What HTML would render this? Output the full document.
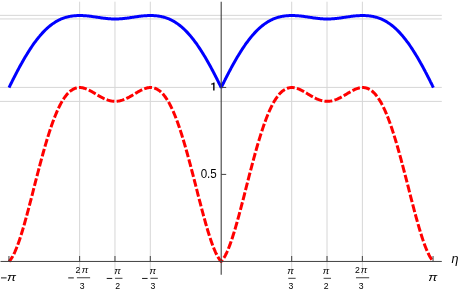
<!DOCTYPE html>
<html><head><meta charset="utf-8"><title>plot</title>
<style>
html,body{margin:0;padding:0;background:#fff;}
body{width:460px;height:292px;overflow:hidden;font-family:"Liberation Sans",sans-serif;}
svg{display:block;opacity:0.999;will-change:transform;}
text{font-family:"Liberation Sans",sans-serif;fill:#000;}
.g line{stroke:#d6d6d6;stroke-width:1;}
.ax line{stroke:#404040;stroke-width:1;}
.ax line.ya{stroke-width:1.1;}
.t{font-size:11.5px;}
.f{font-size:8.3px;}
.d{font-size:9.25px;}
.i{font-style:italic;}
.mn{stroke:#000;stroke-width:0.9;}
.fb{stroke:#000;stroke-width:0.75;}
</style></head><body>
<svg width="460" height="292" viewBox="0 0 460 292">
<rect width="460" height="292" fill="#fff"/>
<g class="g"><line x1="79.63" y1="1.7" x2="79.63" y2="274.7"/><line x1="114.97" y1="1.7" x2="114.97" y2="274.7"/><line x1="150.31" y1="1.7" x2="150.31" y2="274.7"/><line x1="291.69" y1="1.7" x2="291.69" y2="274.7"/><line x1="327.03" y1="1.7" x2="327.03" y2="274.7"/><line x1="362.37" y1="1.7" x2="362.37" y2="274.7"/><line x1="0" y1="15.35" x2="441.8" y2="15.35"/><line x1="0" y1="18.95" x2="441.8" y2="18.95"/><line x1="0" y1="87.40" x2="441.8" y2="87.40"/><line x1="0" y1="101.40" x2="441.8" y2="101.40"/></g>
<path d="M9.05,87.55 L9.76,86.10 L10.46,84.66 L11.17,83.23 L11.88,81.81 L12.58,80.40 L13.29,78.99 L14.00,77.60 L14.71,76.21 L15.41,74.84 L16.12,73.47 L16.83,72.12 L17.53,70.78 L18.24,69.45 L18.95,68.13 L19.66,66.82 L20.36,65.53 L21.07,64.24 L21.78,62.98 L22.48,61.72 L23.19,60.48 L23.90,59.25 L24.61,58.04 L25.31,56.85 L26.02,55.66 L26.73,54.50 L27.43,53.35 L28.14,52.21 L28.85,51.09 L29.56,49.99 L30.26,48.90 L30.97,47.83 L31.68,46.78 L32.38,45.74 L33.09,44.73 L33.80,43.73 L34.51,42.74 L35.21,41.78 L35.92,40.83 L36.63,39.90 L37.34,38.99 L38.04,38.10 L38.75,37.22 L39.46,36.37 L40.16,35.53 L40.87,34.71 L41.58,33.91 L42.29,33.13 L42.99,32.37 L43.70,31.62 L44.41,30.90 L45.11,30.19 L45.82,29.51 L46.53,28.84 L47.24,28.19 L47.94,27.55 L48.65,26.94 L49.36,26.34 L50.06,25.77 L50.77,25.21 L51.48,24.67 L52.19,24.15 L52.89,23.64 L53.60,23.15 L54.31,22.69 L55.01,22.23 L55.72,21.80 L56.43,21.38 L57.14,20.98 L57.84,20.60 L58.55,20.23 L59.26,19.88 L59.96,19.54 L60.67,19.22 L61.38,18.92 L62.09,18.63 L62.79,18.36 L63.50,18.10 L64.21,17.85 L64.91,17.62 L65.62,17.41 L66.33,17.20 L67.04,17.02 L67.74,16.84 L68.45,16.68 L69.16,16.53 L69.87,16.39 L70.57,16.26 L71.28,16.15 L71.99,16.04 L72.69,15.95 L73.40,15.87 L74.11,15.79 L74.82,15.73 L75.52,15.68 L76.23,15.63 L76.94,15.60 L77.64,15.57 L78.35,15.55 L79.06,15.54 L79.77,15.54 L80.47,15.54 L81.18,15.55 L81.89,15.57 L82.59,15.60 L83.30,15.63 L84.01,15.66 L84.72,15.71 L85.42,15.76 L86.13,15.82 L86.84,15.88 L87.54,15.95 L88.25,16.02 L88.96,16.10 L89.67,16.18 L90.37,16.27 L91.08,16.36 L91.79,16.45 L92.49,16.55 L93.20,16.65 L93.91,16.75 L94.62,16.86 L95.32,16.96 L96.03,17.07 L96.74,17.18 L97.44,17.28 L98.15,17.39 L98.86,17.50 L99.57,17.60 L100.27,17.71 L100.98,17.81 L101.69,17.91 L102.40,18.01 L103.10,18.10 L103.81,18.19 L104.52,18.28 L105.22,18.36 L105.93,18.44 L106.64,18.51 L107.35,18.58 L108.05,18.65 L108.76,18.71 L109.47,18.76 L110.17,18.81 L110.88,18.85 L111.59,18.88 L112.30,18.91 L113.00,18.93 L113.71,18.95 L114.42,18.96 L115.12,18.96 L115.83,18.96 L116.54,18.95 L117.25,18.93 L117.95,18.91 L118.66,18.88 L119.37,18.85 L120.07,18.81 L120.78,18.76 L121.49,18.71 L122.20,18.65 L122.90,18.58 L123.61,18.51 L124.32,18.44 L125.02,18.36 L125.73,18.28 L126.44,18.19 L127.15,18.10 L127.85,18.01 L128.56,17.91 L129.27,17.81 L129.97,17.71 L130.68,17.60 L131.39,17.50 L132.10,17.39 L132.80,17.28 L133.51,17.18 L134.22,17.07 L134.92,16.96 L135.63,16.86 L136.34,16.75 L137.05,16.65 L137.75,16.55 L138.46,16.45 L139.17,16.36 L139.88,16.27 L140.58,16.18 L141.29,16.10 L142.00,16.02 L142.70,15.95 L143.41,15.88 L144.12,15.82 L144.83,15.76 L145.53,15.71 L146.24,15.66 L146.95,15.63 L147.65,15.60 L148.36,15.57 L149.07,15.55 L149.78,15.54 L150.48,15.54 L151.19,15.54 L151.90,15.55 L152.60,15.57 L153.31,15.60 L154.02,15.63 L154.73,15.68 L155.43,15.73 L156.14,15.79 L156.85,15.87 L157.55,15.95 L158.26,16.04 L158.97,16.15 L159.68,16.26 L160.38,16.39 L161.09,16.53 L161.80,16.68 L162.50,16.84 L163.21,17.02 L163.92,17.20 L164.63,17.41 L165.33,17.62 L166.04,17.85 L166.75,18.10 L167.45,18.36 L168.16,18.63 L168.87,18.92 L169.58,19.22 L170.28,19.54 L170.99,19.88 L171.70,20.23 L172.41,20.60 L173.11,20.98 L173.82,21.38 L174.53,21.80 L175.23,22.23 L175.94,22.69 L176.65,23.15 L177.36,23.64 L178.06,24.15 L178.77,24.67 L179.48,25.21 L180.18,25.77 L180.89,26.34 L181.60,26.94 L182.31,27.55 L183.01,28.19 L183.72,28.84 L184.43,29.51 L185.13,30.19 L185.84,30.90 L186.55,31.62 L187.26,32.37 L187.96,33.13 L188.67,33.91 L189.38,34.71 L190.08,35.53 L190.79,36.37 L191.50,37.22 L192.21,38.10 L192.91,38.99 L193.62,39.90 L194.33,40.83 L195.03,41.78 L195.74,42.74 L196.45,43.73 L197.16,44.73 L197.86,45.74 L198.57,46.78 L199.28,47.83 L199.98,48.90 L200.69,49.99 L201.40,51.09 L202.11,52.21 L202.81,53.35 L203.52,54.50 L204.23,55.66 L204.94,56.85 L205.64,58.04 L206.35,59.25 L207.06,60.48 L207.76,61.72 L208.47,62.98 L209.18,64.24 L209.89,65.53 L210.59,66.82 L211.30,68.13 L212.01,69.45 L212.71,70.78 L213.42,72.12 L214.13,73.47 L214.84,74.84 L215.54,76.21 L216.25,77.60 L216.96,78.99 L217.66,80.40 L218.37,81.81 L219.08,83.23 L219.79,84.66 L220.49,86.10 L221.20,87.55 L221.91,86.10 L222.61,84.66 L223.32,83.23 L224.03,81.81 L224.74,80.40 L225.44,78.99 L226.15,77.60 L226.86,76.21 L227.56,74.84 L228.27,73.47 L228.98,72.12 L229.69,70.78 L230.39,69.45 L231.10,68.13 L231.81,66.82 L232.51,65.53 L233.22,64.24 L233.93,62.98 L234.64,61.72 L235.34,60.48 L236.05,59.25 L236.76,58.04 L237.46,56.85 L238.17,55.66 L238.88,54.50 L239.59,53.35 L240.29,52.21 L241.00,51.09 L241.71,49.99 L242.42,48.90 L243.12,47.83 L243.83,46.78 L244.54,45.74 L245.24,44.73 L245.95,43.73 L246.66,42.74 L247.37,41.78 L248.07,40.83 L248.78,39.90 L249.49,38.99 L250.19,38.10 L250.90,37.22 L251.61,36.37 L252.32,35.53 L253.02,34.71 L253.73,33.91 L254.44,33.13 L255.14,32.37 L255.85,31.62 L256.56,30.90 L257.27,30.19 L257.97,29.51 L258.68,28.84 L259.39,28.19 L260.09,27.55 L260.80,26.94 L261.51,26.34 L262.22,25.77 L262.92,25.21 L263.63,24.67 L264.34,24.15 L265.04,23.64 L265.75,23.15 L266.46,22.69 L267.17,22.23 L267.87,21.80 L268.58,21.38 L269.29,20.98 L269.99,20.60 L270.70,20.23 L271.41,19.88 L272.12,19.54 L272.82,19.22 L273.53,18.92 L274.24,18.63 L274.95,18.36 L275.65,18.10 L276.36,17.85 L277.07,17.62 L277.77,17.41 L278.48,17.20 L279.19,17.02 L279.90,16.84 L280.60,16.68 L281.31,16.53 L282.02,16.39 L282.72,16.26 L283.43,16.15 L284.14,16.04 L284.85,15.95 L285.55,15.87 L286.26,15.79 L286.97,15.73 L287.67,15.68 L288.38,15.63 L289.09,15.60 L289.80,15.57 L290.50,15.55 L291.21,15.54 L291.92,15.54 L292.62,15.54 L293.33,15.55 L294.04,15.57 L294.75,15.60 L295.45,15.63 L296.16,15.66 L296.87,15.71 L297.57,15.76 L298.28,15.82 L298.99,15.88 L299.70,15.95 L300.40,16.02 L301.11,16.10 L301.82,16.18 L302.52,16.27 L303.23,16.36 L303.94,16.45 L304.65,16.55 L305.35,16.65 L306.06,16.75 L306.77,16.86 L307.48,16.96 L308.18,17.07 L308.89,17.18 L309.60,17.28 L310.30,17.39 L311.01,17.50 L311.72,17.60 L312.43,17.71 L313.13,17.81 L313.84,17.91 L314.55,18.01 L315.25,18.10 L315.96,18.19 L316.67,18.28 L317.38,18.36 L318.08,18.44 L318.79,18.51 L319.50,18.58 L320.20,18.65 L320.91,18.71 L321.62,18.76 L322.33,18.81 L323.03,18.85 L323.74,18.88 L324.45,18.91 L325.15,18.93 L325.86,18.95 L326.57,18.96 L327.28,18.96 L327.98,18.96 L328.69,18.95 L329.40,18.93 L330.10,18.91 L330.81,18.88 L331.52,18.85 L332.23,18.81 L332.93,18.76 L333.64,18.71 L334.35,18.65 L335.05,18.58 L335.76,18.51 L336.47,18.44 L337.18,18.36 L337.88,18.28 L338.59,18.19 L339.30,18.10 L340.00,18.01 L340.71,17.91 L341.42,17.81 L342.13,17.71 L342.83,17.60 L343.54,17.50 L344.25,17.39 L344.96,17.28 L345.66,17.18 L346.37,17.07 L347.08,16.96 L347.78,16.86 L348.49,16.75 L349.20,16.65 L349.91,16.55 L350.61,16.45 L351.32,16.36 L352.03,16.27 L352.73,16.18 L353.44,16.10 L354.15,16.02 L354.86,15.95 L355.56,15.88 L356.27,15.82 L356.98,15.76 L357.68,15.71 L358.39,15.66 L359.10,15.63 L359.81,15.60 L360.51,15.57 L361.22,15.55 L361.93,15.54 L362.63,15.54 L363.34,15.54 L364.05,15.55 L364.76,15.57 L365.46,15.60 L366.17,15.63 L366.88,15.68 L367.58,15.73 L368.29,15.79 L369.00,15.87 L369.71,15.95 L370.41,16.04 L371.12,16.15 L371.83,16.26 L372.53,16.39 L373.24,16.53 L373.95,16.68 L374.66,16.84 L375.36,17.02 L376.07,17.20 L376.78,17.41 L377.49,17.62 L378.19,17.85 L378.90,18.10 L379.61,18.36 L380.31,18.63 L381.02,18.92 L381.73,19.22 L382.44,19.54 L383.14,19.88 L383.85,20.23 L384.56,20.60 L385.26,20.98 L385.97,21.38 L386.68,21.80 L387.39,22.23 L388.09,22.69 L388.80,23.15 L389.51,23.64 L390.21,24.15 L390.92,24.67 L391.63,25.21 L392.34,25.77 L393.04,26.34 L393.75,26.94 L394.46,27.55 L395.16,28.19 L395.87,28.84 L396.58,29.51 L397.29,30.19 L397.99,30.90 L398.70,31.62 L399.41,32.37 L400.11,33.13 L400.82,33.91 L401.53,34.71 L402.24,35.53 L402.94,36.37 L403.65,37.22 L404.36,38.10 L405.06,38.99 L405.77,39.90 L406.48,40.83 L407.19,41.78 L407.89,42.74 L408.60,43.73 L409.31,44.73 L410.02,45.74 L410.72,46.78 L411.43,47.83 L412.14,48.90 L412.84,49.99 L413.55,51.09 L414.26,52.21 L414.97,53.35 L415.67,54.50 L416.38,55.66 L417.09,56.85 L417.79,58.04 L418.50,59.25 L419.21,60.48 L419.92,61.72 L420.62,62.98 L421.33,64.24 L422.04,65.53 L422.74,66.82 L423.45,68.13 L424.16,69.45 L424.87,70.78 L425.57,72.12 L426.28,73.47 L426.99,74.84 L427.69,76.21 L428.40,77.60 L429.11,78.99 L429.82,80.40 L430.52,81.81 L431.23,83.23 L431.94,84.66 L432.64,86.10 L433.35,87.55" fill="none" stroke="#0000ff" stroke-width="3.0" stroke-linejoin="bevel"/>
<path d="M9.05,261.40 L9.76,260.64 L10.46,259.77 L11.17,258.78 L11.88,257.68 L12.58,256.48 L13.29,255.18 L14.00,253.77 L14.71,252.27 L15.41,250.68 L16.12,249.01 L16.83,247.24 L17.53,245.40 L18.24,243.47 L18.95,241.47 L19.66,239.40 L20.36,237.27 L21.07,235.07 L21.78,232.81 L22.48,230.49 L23.19,228.12 L23.90,225.70 L24.61,223.23 L25.31,220.72 L26.02,218.17 L26.73,215.58 L27.43,212.97 L28.14,210.32 L28.85,207.65 L29.56,204.95 L30.26,202.24 L30.97,199.51 L31.68,196.76 L32.38,194.01 L33.09,191.25 L33.80,188.49 L34.51,185.73 L35.21,182.96 L35.92,180.21 L36.63,177.46 L37.34,174.72 L38.04,172.00 L38.75,169.29 L39.46,166.60 L40.16,163.93 L40.87,161.29 L41.58,158.67 L42.29,156.08 L42.99,153.51 L43.70,150.98 L44.41,148.49 L45.11,146.03 L45.82,143.61 L46.53,141.23 L47.24,138.89 L47.94,136.59 L48.65,134.33 L49.36,132.13 L50.06,129.97 L50.77,127.86 L51.48,125.80 L52.19,123.78 L52.89,121.83 L53.60,119.92 L54.31,118.07 L55.01,116.27 L55.72,114.52 L56.43,112.84 L57.14,111.20 L57.84,109.63 L58.55,108.11 L59.26,106.65 L59.96,105.24 L60.67,103.89 L61.38,102.60 L62.09,101.37 L62.79,100.19 L63.50,99.08 L64.21,98.01 L64.91,97.01 L65.62,96.06 L66.33,95.16 L67.04,94.32 L67.74,93.53 L68.45,92.80 L69.16,92.12 L69.87,91.49 L70.57,90.91 L71.28,90.39 L71.99,89.91 L72.69,89.48 L73.40,89.09 L74.11,88.75 L74.82,88.46 L75.52,88.21 L76.23,88.00 L76.94,87.84 L77.64,87.71 L78.35,87.62 L79.06,87.57 L79.77,87.55 L80.47,87.57 L81.18,87.62 L81.89,87.71 L82.59,87.84 L83.30,87.99 L84.01,88.18 L84.72,88.39 L85.42,88.63 L86.13,88.89 L86.84,89.18 L87.54,89.48 L88.25,89.81 L88.96,90.16 L89.67,90.51 L90.37,90.89 L91.08,91.27 L91.79,91.67 L92.49,92.08 L93.20,92.49 L93.91,92.91 L94.62,93.33 L95.32,93.75 L96.03,94.18 L96.74,94.60 L97.44,95.02 L98.15,95.44 L98.86,95.85 L99.57,96.26 L100.27,96.66 L100.98,97.05 L101.69,97.42 L102.40,97.79 L103.10,98.14 L103.81,98.48 L104.52,98.81 L105.22,99.12 L105.93,99.41 L106.64,99.68 L107.35,99.93 L108.05,100.17 L108.76,100.38 L109.47,100.58 L110.17,100.75 L110.88,100.90 L111.59,101.03 L112.30,101.13 L113.00,101.21 L113.71,101.27 L114.42,101.31 L115.12,101.32 L115.83,101.31 L116.54,101.27 L117.25,101.21 L117.95,101.13 L118.66,101.03 L119.37,100.90 L120.07,100.75 L120.78,100.58 L121.49,100.38 L122.20,100.17 L122.90,99.93 L123.61,99.68 L124.32,99.41 L125.02,99.12 L125.73,98.81 L126.44,98.48 L127.15,98.14 L127.85,97.79 L128.56,97.42 L129.27,97.05 L129.97,96.66 L130.68,96.26 L131.39,95.85 L132.10,95.44 L132.80,95.02 L133.51,94.60 L134.22,94.18 L134.92,93.75 L135.63,93.33 L136.34,92.91 L137.05,92.49 L137.75,92.08 L138.46,91.67 L139.17,91.27 L139.88,90.89 L140.58,90.51 L141.29,90.16 L142.00,89.81 L142.70,89.48 L143.41,89.18 L144.12,88.89 L144.83,88.63 L145.53,88.39 L146.24,88.18 L146.95,87.99 L147.65,87.84 L148.36,87.71 L149.07,87.62 L149.78,87.57 L150.48,87.55 L151.19,87.57 L151.90,87.62 L152.60,87.71 L153.31,87.84 L154.02,88.00 L154.73,88.21 L155.43,88.46 L156.14,88.75 L156.85,89.09 L157.55,89.48 L158.26,89.91 L158.97,90.39 L159.68,90.91 L160.38,91.49 L161.09,92.12 L161.80,92.80 L162.50,93.53 L163.21,94.32 L163.92,95.16 L164.63,96.06 L165.33,97.01 L166.04,98.01 L166.75,99.08 L167.45,100.19 L168.16,101.37 L168.87,102.60 L169.58,103.89 L170.28,105.24 L170.99,106.65 L171.70,108.11 L172.41,109.63 L173.11,111.20 L173.82,112.84 L174.53,114.52 L175.23,116.27 L175.94,118.07 L176.65,119.92 L177.36,121.83 L178.06,123.78 L178.77,125.80 L179.48,127.86 L180.18,129.97 L180.89,132.13 L181.60,134.33 L182.31,136.59 L183.01,138.89 L183.72,141.23 L184.43,143.61 L185.13,146.03 L185.84,148.49 L186.55,150.98 L187.26,153.51 L187.96,156.08 L188.67,158.67 L189.38,161.29 L190.08,163.93 L190.79,166.60 L191.50,169.29 L192.21,172.00 L192.91,174.72 L193.62,177.46 L194.33,180.21 L195.03,182.96 L195.74,185.73 L196.45,188.49 L197.16,191.25 L197.86,194.01 L198.57,196.76 L199.28,199.51 L199.98,202.24 L200.69,204.95 L201.40,207.65 L202.11,210.32 L202.81,212.97 L203.52,215.58 L204.23,218.17 L204.94,220.72 L205.64,223.23 L206.35,225.70 L207.06,228.12 L207.76,230.49 L208.47,232.81 L209.18,235.07 L209.89,237.27 L210.59,239.40 L211.30,241.47 L212.01,243.47 L212.71,245.40 L213.42,247.24 L214.13,249.01 L214.84,250.68 L215.54,252.27 L216.25,253.77 L216.96,255.18 L217.66,256.48 L218.37,257.68 L219.08,258.78 L219.79,259.77 L220.49,260.64 L221.20,261.40 L221.91,260.64 L222.61,259.77 L223.32,258.78 L224.03,257.68 L224.74,256.48 L225.44,255.18 L226.15,253.77 L226.86,252.27 L227.56,250.68 L228.27,249.01 L228.98,247.24 L229.69,245.40 L230.39,243.47 L231.10,241.47 L231.81,239.40 L232.51,237.27 L233.22,235.07 L233.93,232.81 L234.64,230.49 L235.34,228.12 L236.05,225.70 L236.76,223.23 L237.46,220.72 L238.17,218.17 L238.88,215.58 L239.59,212.97 L240.29,210.32 L241.00,207.65 L241.71,204.95 L242.42,202.24 L243.12,199.51 L243.83,196.76 L244.54,194.01 L245.24,191.25 L245.95,188.49 L246.66,185.73 L247.37,182.96 L248.07,180.21 L248.78,177.46 L249.49,174.72 L250.19,172.00 L250.90,169.29 L251.61,166.60 L252.32,163.93 L253.02,161.29 L253.73,158.67 L254.44,156.08 L255.14,153.51 L255.85,150.98 L256.56,148.49 L257.27,146.03 L257.97,143.61 L258.68,141.23 L259.39,138.89 L260.09,136.59 L260.80,134.33 L261.51,132.13 L262.22,129.97 L262.92,127.86 L263.63,125.80 L264.34,123.78 L265.04,121.83 L265.75,119.92 L266.46,118.07 L267.17,116.27 L267.87,114.52 L268.58,112.84 L269.29,111.20 L269.99,109.63 L270.70,108.11 L271.41,106.65 L272.12,105.24 L272.82,103.89 L273.53,102.60 L274.24,101.37 L274.95,100.19 L275.65,99.08 L276.36,98.01 L277.07,97.01 L277.77,96.06 L278.48,95.16 L279.19,94.32 L279.90,93.53 L280.60,92.80 L281.31,92.12 L282.02,91.49 L282.72,90.91 L283.43,90.39 L284.14,89.91 L284.85,89.48 L285.55,89.09 L286.26,88.75 L286.97,88.46 L287.67,88.21 L288.38,88.00 L289.09,87.84 L289.80,87.71 L290.50,87.62 L291.21,87.57 L291.92,87.55 L292.62,87.57 L293.33,87.62 L294.04,87.71 L294.75,87.84 L295.45,87.99 L296.16,88.18 L296.87,88.39 L297.57,88.63 L298.28,88.89 L298.99,89.18 L299.70,89.48 L300.40,89.81 L301.11,90.16 L301.82,90.51 L302.52,90.89 L303.23,91.27 L303.94,91.67 L304.65,92.08 L305.35,92.49 L306.06,92.91 L306.77,93.33 L307.48,93.75 L308.18,94.18 L308.89,94.60 L309.60,95.02 L310.30,95.44 L311.01,95.85 L311.72,96.26 L312.43,96.66 L313.13,97.05 L313.84,97.42 L314.55,97.79 L315.25,98.14 L315.96,98.48 L316.67,98.81 L317.38,99.12 L318.08,99.41 L318.79,99.68 L319.50,99.93 L320.20,100.17 L320.91,100.38 L321.62,100.58 L322.33,100.75 L323.03,100.90 L323.74,101.03 L324.45,101.13 L325.15,101.21 L325.86,101.27 L326.57,101.31 L327.28,101.32 L327.98,101.31 L328.69,101.27 L329.40,101.21 L330.10,101.13 L330.81,101.03 L331.52,100.90 L332.23,100.75 L332.93,100.58 L333.64,100.38 L334.35,100.17 L335.05,99.93 L335.76,99.68 L336.47,99.41 L337.18,99.12 L337.88,98.81 L338.59,98.48 L339.30,98.14 L340.00,97.79 L340.71,97.42 L341.42,97.05 L342.13,96.66 L342.83,96.26 L343.54,95.85 L344.25,95.44 L344.96,95.02 L345.66,94.60 L346.37,94.18 L347.08,93.75 L347.78,93.33 L348.49,92.91 L349.20,92.49 L349.91,92.08 L350.61,91.67 L351.32,91.27 L352.03,90.89 L352.73,90.51 L353.44,90.16 L354.15,89.81 L354.86,89.48 L355.56,89.18 L356.27,88.89 L356.98,88.63 L357.68,88.39 L358.39,88.18 L359.10,87.99 L359.81,87.84 L360.51,87.71 L361.22,87.62 L361.93,87.57 L362.63,87.55 L363.34,87.57 L364.05,87.62 L364.76,87.71 L365.46,87.84 L366.17,88.00 L366.88,88.21 L367.58,88.46 L368.29,88.75 L369.00,89.09 L369.71,89.48 L370.41,89.91 L371.12,90.39 L371.83,90.91 L372.53,91.49 L373.24,92.12 L373.95,92.80 L374.66,93.53 L375.36,94.32 L376.07,95.16 L376.78,96.06 L377.49,97.01 L378.19,98.01 L378.90,99.08 L379.61,100.19 L380.31,101.37 L381.02,102.60 L381.73,103.89 L382.44,105.24 L383.14,106.65 L383.85,108.11 L384.56,109.63 L385.26,111.20 L385.97,112.84 L386.68,114.52 L387.39,116.27 L388.09,118.07 L388.80,119.92 L389.51,121.83 L390.21,123.78 L390.92,125.80 L391.63,127.86 L392.34,129.97 L393.04,132.13 L393.75,134.33 L394.46,136.59 L395.16,138.89 L395.87,141.23 L396.58,143.61 L397.29,146.03 L397.99,148.49 L398.70,150.98 L399.41,153.51 L400.11,156.08 L400.82,158.67 L401.53,161.29 L402.24,163.93 L402.94,166.60 L403.65,169.29 L404.36,172.00 L405.06,174.72 L405.77,177.46 L406.48,180.21 L407.19,182.96 L407.89,185.73 L408.60,188.49 L409.31,191.25 L410.02,194.01 L410.72,196.76 L411.43,199.51 L412.14,202.24 L412.84,204.95 L413.55,207.65 L414.26,210.32 L414.97,212.97 L415.67,215.58 L416.38,218.17 L417.09,220.72 L417.79,223.23 L418.50,225.70 L419.21,228.12 L419.92,230.49 L420.62,232.81 L421.33,235.07 L422.04,237.27 L422.74,239.40 L423.45,241.47 L424.16,243.47 L424.87,245.40 L425.57,247.24 L426.28,249.01 L426.99,250.68 L427.69,252.27 L428.40,253.77 L429.11,255.18 L429.82,256.48 L430.52,257.68 L431.23,258.78 L431.94,259.77 L432.64,260.64 L433.35,261.40" fill="none" stroke="#ff0000" stroke-width="3.0" stroke-dasharray="7.9 2.28" stroke-dashoffset="1.4" stroke-linejoin="round"/>
<g class="ax"><line x1="0.5" y1="261.45" x2="441.8" y2="261.45"/><line class="ya" x1="221.2" y1="1.7" x2="221.2" y2="274.7"/><line x1="8.94" y1="256" x2="8.94" y2="261.45"/><line x1="79.63" y1="256" x2="79.63" y2="261.45"/><line x1="114.97" y1="256" x2="114.97" y2="261.45"/><line x1="150.31" y1="256" x2="150.31" y2="261.45"/><line x1="291.69" y1="256" x2="291.69" y2="261.45"/><line x1="327.03" y1="256" x2="327.03" y2="261.45"/><line x1="362.37" y1="256" x2="362.37" y2="261.45"/><line x1="433.06" y1="256" x2="433.06" y2="261.45"/><line x1="221.2" y1="87.45" x2="226.2" y2="87.45"/><line x1="221.2" y1="174.40" x2="226.2" y2="174.40"/></g>
<path d="M214.55,82.5 V90.55 H213.15 V84.55 H211.0 V83.65 C212.3,83.55 213.2,83.2 213.55,82.5 Z" fill="#000"/>
<text text-anchor="end" style="font-size:12.4px" transform="translate(216.75,177.75) scale(0.935,1)">0.5</text>
<line class="mn" x1="1.0" y1="277.9" x2="6.6" y2="277.9"/>
<text class="i" style="font-size:12.6px" x="451.5" y="263.3">η</text>
<line class="mn" x1="68.22" y1="277.90" x2="73.82" y2="277.90"/><line class="fb" x1="76.92" y1="277.75" x2="90.12" y2="277.75"/><text class="d" text-anchor="middle" transform="translate(78.04,272.95) scale(0.94,1)">2</text><text class="f i" transform="translate(81.72,272.95) scale(1.17,1)">π</text><text class="d" text-anchor="middle" transform="translate(82.07,288.64) scale(0.94,1)">3</text><line class="mn" x1="106.72" y1="278.45" x2="112.22" y2="278.45"/><line class="fb" x1="115.07" y1="278.30" x2="122.47" y2="278.30"/><text class="f i" transform="translate(114.17,273.60) scale(1.17,1)">π</text><text class="d" text-anchor="middle" transform="translate(117.62,288.75) scale(0.94,1)">2</text><line class="mn" x1="142.08" y1="278.45" x2="147.58" y2="278.45"/><line class="fb" x1="150.43" y1="278.30" x2="157.83" y2="278.30"/><text class="f i" transform="translate(149.53,273.60) scale(1.17,1)">π</text><text class="d" text-anchor="middle" transform="translate(152.98,288.75) scale(0.94,1)">3</text><line class="fb" x1="288.27" y1="278.30" x2="295.67" y2="278.30"/><text class="f i" transform="translate(287.37,273.60) scale(1.17,1)">π</text><text class="d" text-anchor="middle" transform="translate(290.82,288.75) scale(0.94,1)">3</text><line class="fb" x1="323.63" y1="278.30" x2="331.03" y2="278.30"/><text class="f i" transform="translate(322.73,273.60) scale(1.17,1)">π</text><text class="d" text-anchor="middle" transform="translate(326.18,288.75) scale(0.94,1)">2</text><line class="fb" x1="355.98" y1="277.75" x2="369.18" y2="277.75"/><text class="d" text-anchor="middle" transform="translate(357.50,272.95) scale(0.94,1)">2</text><text class="f i" transform="translate(360.78,272.95) scale(1.17,1)">π</text><text class="d" text-anchor="middle" transform="translate(361.13,288.64) scale(0.94,1)">3</text><text class="t i" transform="translate(6.90,281.10) scale(1.17,1)">π</text><text class="t i" transform="translate(428.20,281.10) scale(1.17,1)">π</text>
</svg>
</body></html>
